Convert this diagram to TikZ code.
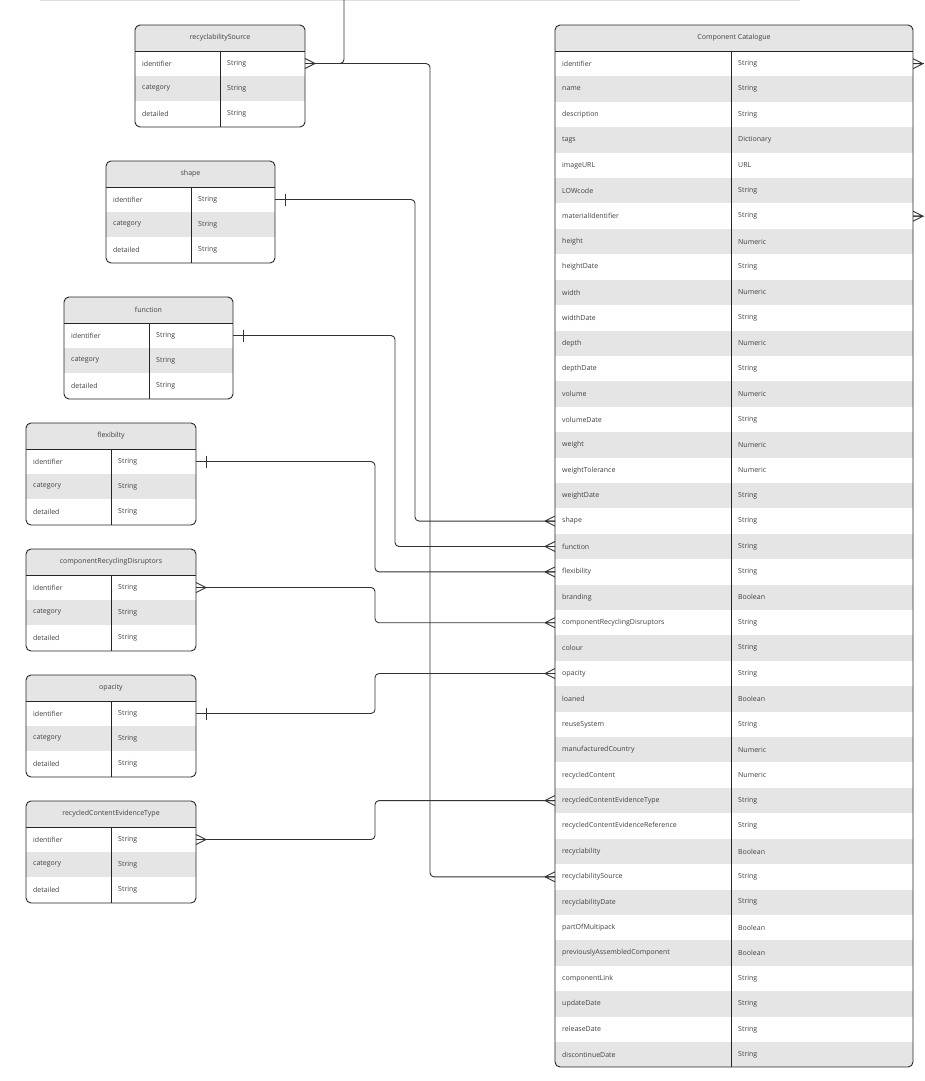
\documentclass[tikz,border=0pt]{standalone}
\usepackage{fontspec}
\setmainfont{Open Sans}
\usetikzlibrary{calc}
\begin{document}
\begin{tikzpicture}[x=1pt,y=-1pt,
  lbl/.style={anchor=west,inner sep=0pt,font=\fontsize{7}{8}\selectfont,text=black!75},
  hdr/.style={anchor=center,inner sep=0pt,font=\fontsize{7}{8}\selectfont,text=black!75},
  conn/.style={draw=black!80,line width=0.9pt,rounded corners=4pt},
  edge/.style={draw=black!85,line width=0.9pt}]
\useasboundingbox (0,0) rectangle (924,1081);
\draw[black!12,line width=1pt] (40,0.5) -- (800,0.5);
\newcommand\smalltab[6]{%
  \fill[white,rounded corners=5pt] (#2,#3) rectangle (#4,#3+102);
  \begin{scope}
  \clip[rounded corners=5pt] (#2,#3) rectangle (#4,#3+102);
  \fill[black!10] (#2,#3) rectangle (#4,#3+26);
  \fill[black!10] (#2,#3+51) rectangle (#4,#3+76);
  \end{scope}
  \draw[edge] (#2,#3+26) -- (#4,#3+26) (#5,#3+26) -- (#5,#3+102);
  \draw[edge,rounded corners=5pt] (#2,#3) rectangle (#4,#3+102);
  \node[hdr] (#1h) at ({(#2+#4)/2},#3+13) {#6};
  \node[lbl] (#1a) at (#2+7,#3+38.5) {identifier};
  \node[lbl] (#1b) at (#2+7,#3+63.5) {category};
  \node[lbl] (#1c) at (#2+7,#3+88.5) {detailed};
  \node[lbl] (#1at) at (#5+7,#3+38.5) {String};
  \node[lbl] (#1bt) at (#5+7,#3+63.5) {String};
  \node[lbl] (#1ct) at (#5+7,#3+88.5) {String};
  \coordinate (#1R) at (#4,#3+38.5);
}
\smalltab{rs}{135}{25}{305}{220}{recyclabilitySource}
\smalltab{sh}{106}{161}{275}{191}{shape}
\smalltab{fn}{64}{297}{233}{149}{function}
\smalltab{fl}{26}{423}{196}{111}{flexibilty}
\smalltab{cr}{26}{549}{196}{111}{componentRecyclingDisruptors}
\smalltab{op}{26}{675}{196}{111}{opacity}
\smalltab{rc}{26}{801}{196}{111}{recycledContentEvidenceType}
\def\rh{25.41}
\fill[white,rounded corners=5pt] (555,25) rectangle (913,1067);
\begin{scope}
\clip[rounded corners=5pt] (555,25) rectangle (913,1067);
\fill[black!10] (555,25) rectangle (913,51);
\foreach \i in {1,3,...,39} \fill[black!10] (555,51+\i*\rh) rectangle (913,51+\i*\rh+\rh);
\end{scope}
\draw[edge] (555,51) -- (913,51) (731,51) -- (731,1067);
\draw[edge,rounded corners=5pt] (555,25) rectangle (913,1067);
\node[hdr] (cth) at (734,38) {Component Catalogue};
\foreach [count=\i from 0] \n/\t in {identifier/String,name/String,description/String,tags/Dictionary,imageURL/URL,LOWcode/String,materialIdentifier/String,height/Numeric,heightDate/String,width/Numeric,widthDate/String,depth/Numeric,depthDate/String,volume/Numeric,volumeDate/String,weight/Numeric,weightTolerance/Numeric,weightDate/String,shape/String,function/String,flexibility/String,branding/Boolean,componentRecyclingDisruptors/String,colour/String,opacity/String,loaned/Boolean,reuseSystem/String,manufacturedCountry/Numeric,recycledContent/Numeric,recycledContentEvidenceType/String,recycledContentEvidenceReference/String,recyclability/Boolean,recyclabilitySource/String,recyclabilityDate/String,partOfMultipack/Boolean,previouslyAssembledComponent/Boolean,componentLink/String,updateDate/String,releaseDate/String,discontinueDate/String}{
  \node[lbl] (c\i) at (562,63.7+\i*\rh) {\n};
  \node[lbl] (ct\i) at (738,63.7+\i*\rh) {\t};
  \coordinate (cL\i) at (555,63.7+\i*\rh);
  \coordinate (cR\i) at (913,63.7+\i*\rh);
}
\newcommand\crowL[1]{\draw[conn,rounded corners=0pt] ($(#1)+(-10,0)$) -- ($(#1)+(0,-5)$) ($(#1)+(-10,0)$) -- (#1) ($(#1)+(-10,0)$) -- ($(#1)+(0,5)$);}
\newcommand\crowR[1]{\draw[conn,rounded corners=0pt] ($(#1)+(10,0)$) -- ($(#1)+(0,-5)$) ($(#1)+(10,0)$) -- (#1) ($(#1)+(10,0)$) -- ($(#1)+(0,5)$);}
\newcommand\barR[1]{\draw[conn] ($(#1)+(10,-6)$) -- ($(#1)+(10,6)$);}
% connectors
\coordinate (top) at (344,0);
\draw[conn] (top) |- (rsR);
\draw[conn] (rsR) -| (430,500) |- (cL32);
\crowR{rsR} \crowL{cL32}
\draw[conn] (shR) -| (415,400) |- (cL18);
\barR{shR} \crowL{cL18}
\draw[conn] (fnR) -| (395,450) |- (cL19);
\barR{fnR} \crowL{cL19}
\draw[conn] (flR) -| (375,500) |- (cL20);
\barR{flR} \crowL{cL20}
\draw[conn] (crR) -| (375,600) |- (cL22);
\crowR{crR} \crowL{cL22}
\draw[conn] (opR) -| (375,690) |- (cL24);
\barR{opR} \crowL{cL24}
\draw[conn] (rcR) -| (375,820) |- (cL29);
\crowR{rcR} \crowL{cL29}
\coordinate (outA) at (924,63.7);
\coordinate (outB) at (924,216.2);
\draw[conn] (cR0) -- (outA); \crowR{cR0}
\draw[conn] (cR6) -- (outB); \crowR{cR6}
\end{tikzpicture}
\end{document}
